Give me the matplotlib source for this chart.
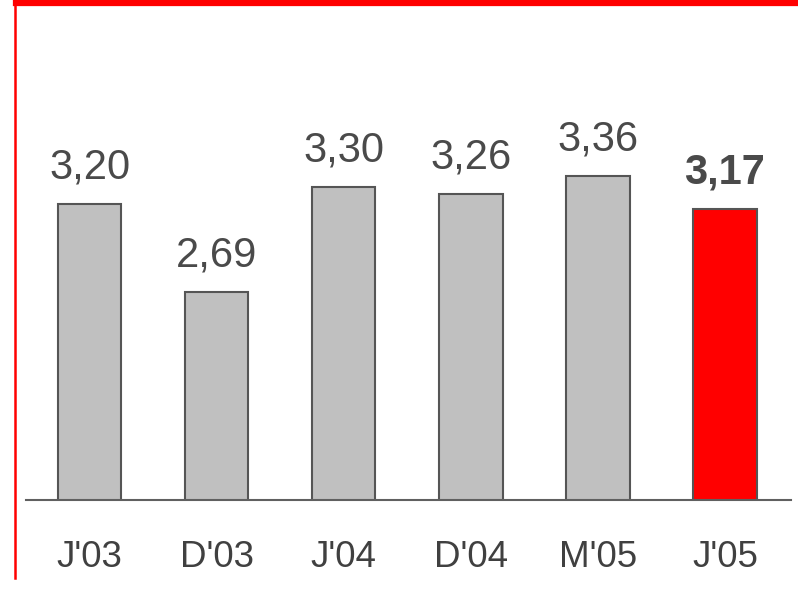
import matplotlib
matplotlib.use("Agg")
import matplotlib.pyplot as plt
from matplotlib.lines import Line2D

categories = ["J'03", "D'03", "J'04", "D'04", "M'05", "J'05"]
values = [3.20, 2.69, 3.30, 3.26, 3.36, 3.17]
labels = ["3,20", "2,69", "3,30", "3,26", "3,36", "3,17"]
colors = ["#c0c0c0"] * 5 + ["#ff0000"]

plt.rcParams['font.family'] = ['Liberation Sans', 'DejaVu Sans']
W, H = 798, 590
fig = plt.figure(figsize=(W / 100, H / 100), dpi=100)

ax_left, ax_right = 26 / W, 791 / W
ax_bottom = (H - 500) / H
ax_top = (H - 6) / H
ax = fig.add_axes([ax_left, ax_bottom, ax_right - ax_left, ax_top - ax_bottom])

x = list(range(len(categories)))
ax.bar(x, values, width=0.5, color=colors, edgecolor="#555555", linewidth=1.5, zorder=2)
ax.set_xlim(-0.5, 5.52)
ax.set_ylim(1.49, 1.49 + 494 / 173)

for i, (v, lab) in enumerate(zip(values, labels)):
    bold = (i == len(values) - 1)
    ax.annotate(lab, (i, v), xytext=(0, 18.5), textcoords="offset points",
                ha="center", va="baseline", fontsize=30,
                fontweight="bold" if bold else "normal", color="#4a4a4a")

ax.set_xticks(x)
ax.set_xticklabels(categories, fontsize=26.5, color="#404040")
ax.tick_params(axis="x", length=0, pad=29)
ax.set_yticks([])
for s in ["top", "right", "left"]:
    ax.spines[s].set_visible(False)
ax.spines["bottom"].set_color("#606060")
ax.spines["bottom"].set_linewidth(1.5)

# red frame lines
fig.add_artist(Line2D([16 / W, 1.0], [1 - 3 / H, 1 - 3 / H], color="#ff0000", linewidth=4.5,
                      transform=fig.transFigure))
fig.add_artist(Line2D([15 / W, 15 / W], [1 - 4 / H, 1 - 578 / H], color="#ff0000", linewidth=1.8,
                      transform=fig.transFigure))

fig.savefig("out.png", dpi=100)
